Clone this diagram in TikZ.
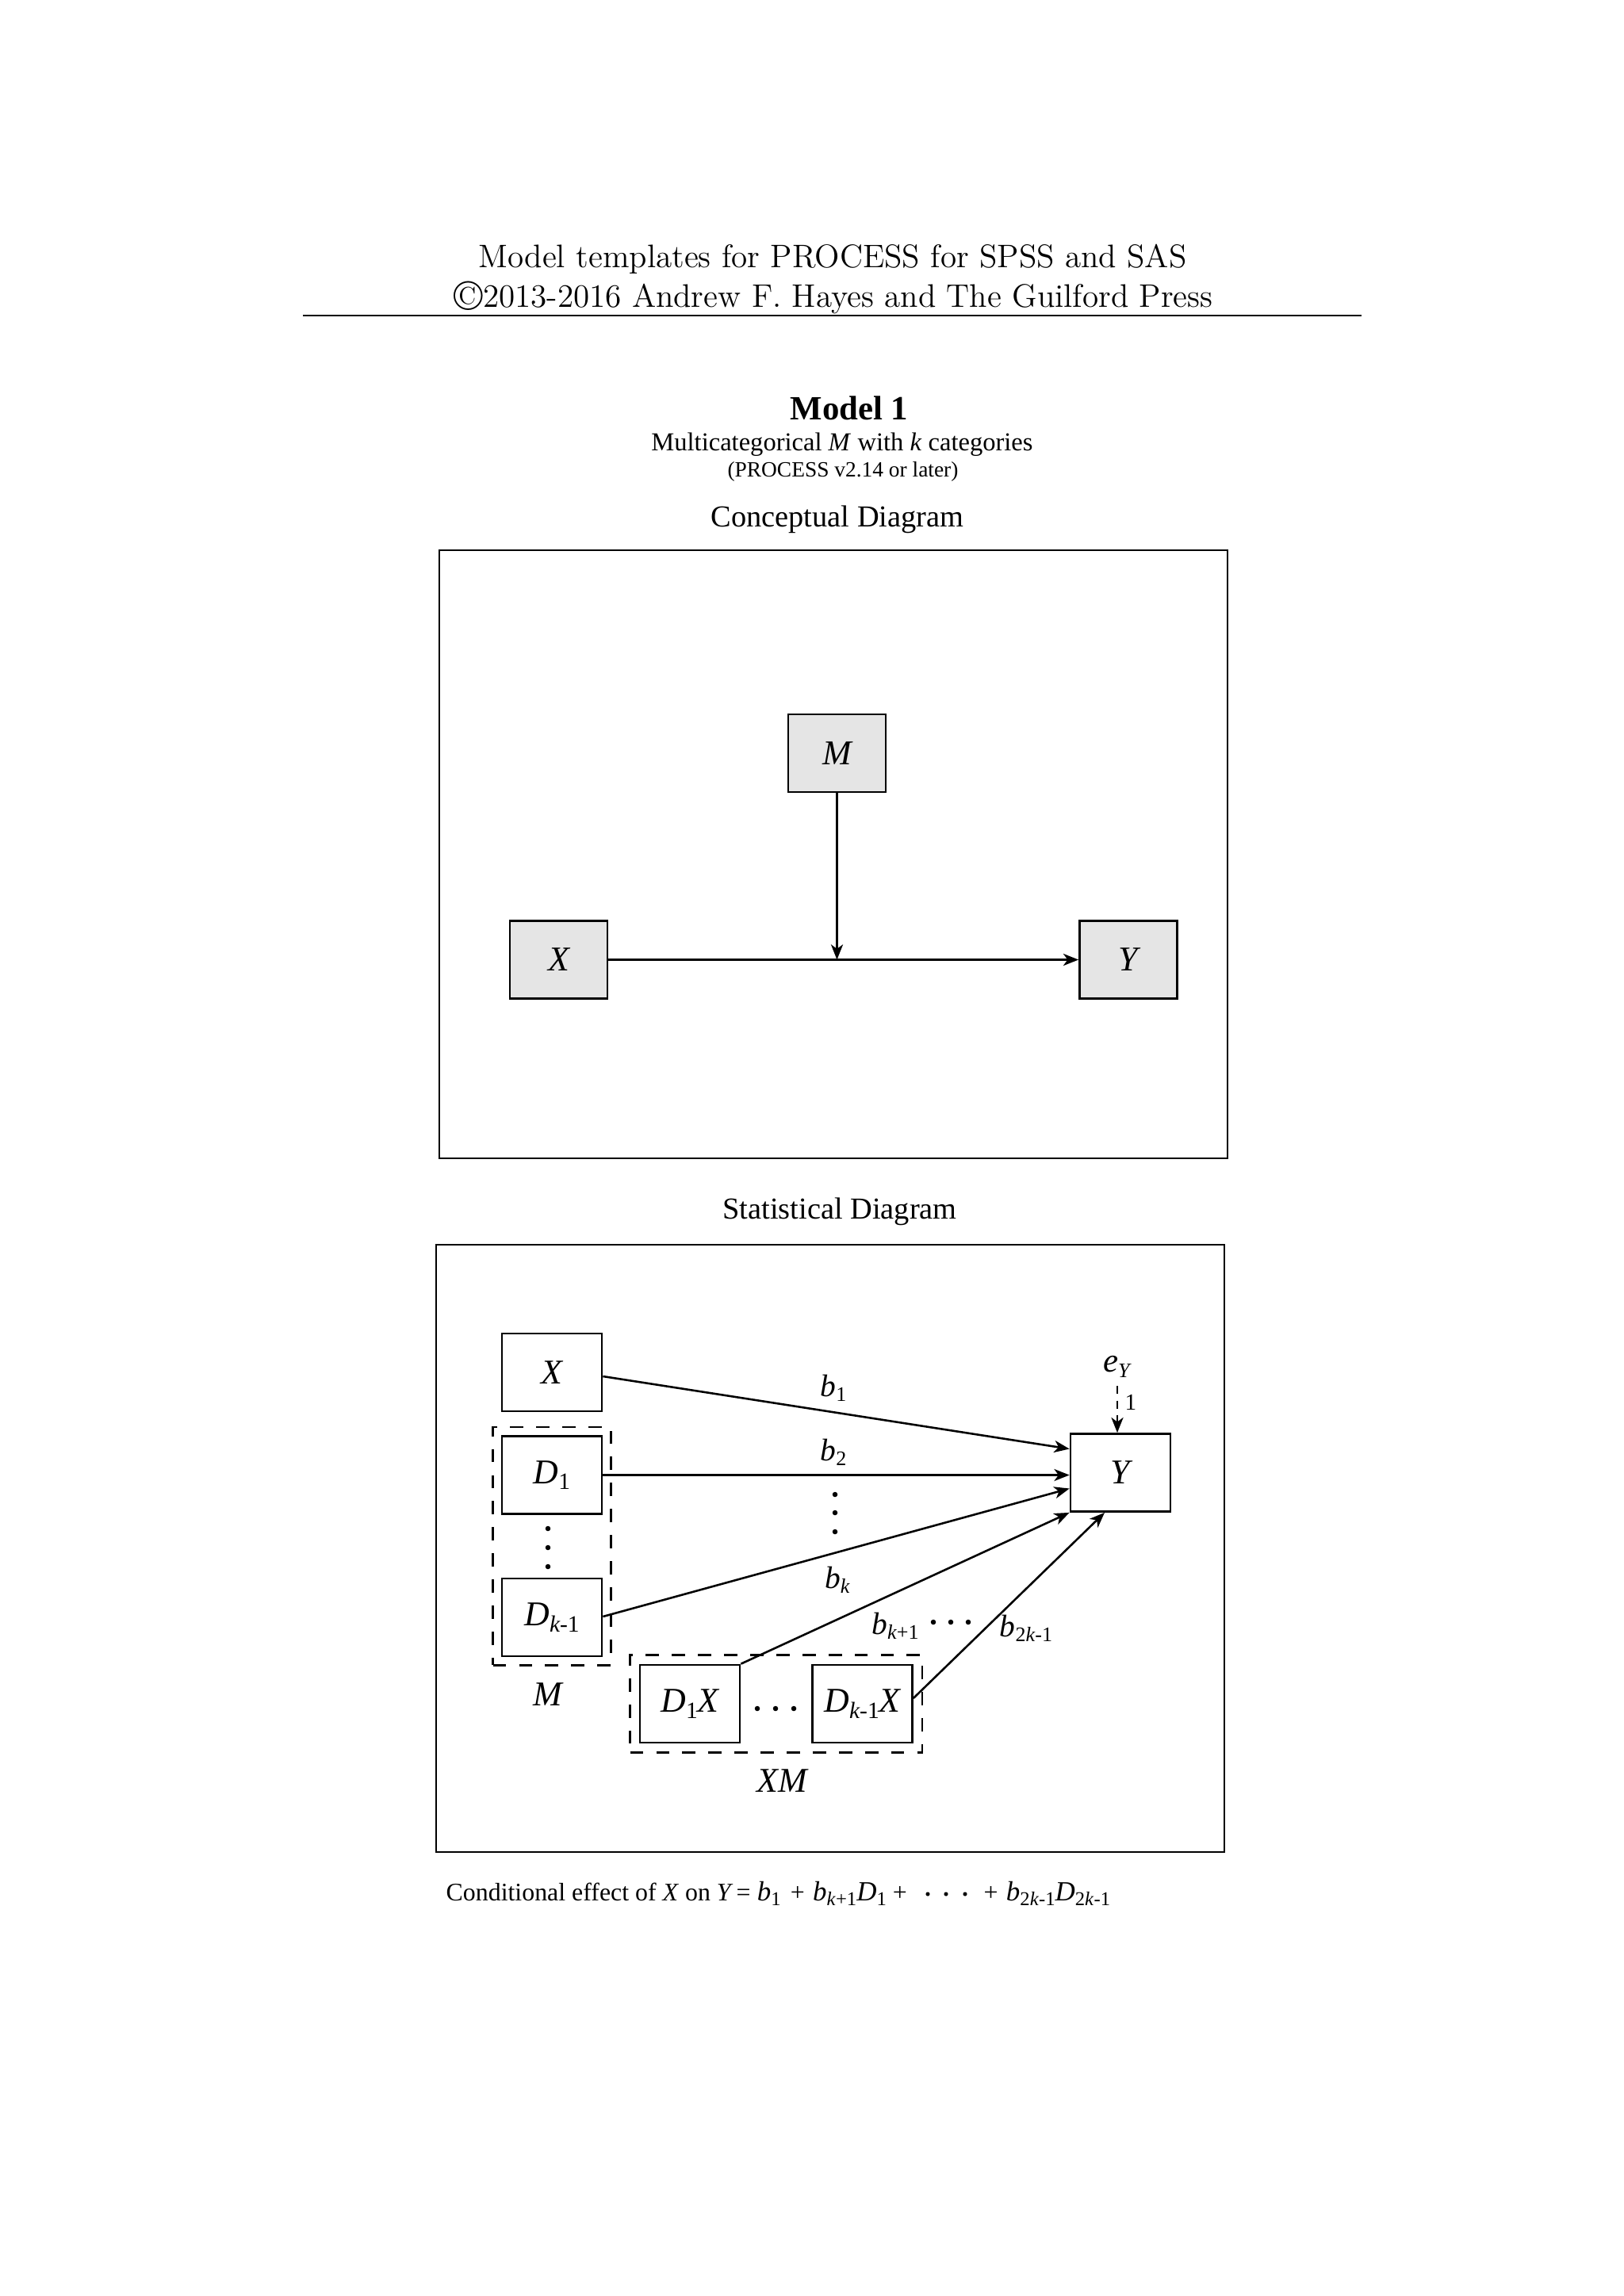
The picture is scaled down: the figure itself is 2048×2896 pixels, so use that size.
\documentclass[tikz,border=0pt]{standalone}
\usepackage{fontspec}
\usepackage{graphicx}
\newfontfamily\tms{Liberation Serif}
\usetikzlibrary{arrows.meta,fit,calc}
\newcommand\px{0.29175pt}
\newcommand\dsb[1]{\raisebox{-2.2pt}{\fontsize{8.6}{9}\selectfont #1}}
\newcommand\lsb[1]{\raisebox{-1.9pt}{\fontsize{7.6}{8}\selectfont #1}}
\newcommand\fsb[1]{\raisebox{-1.8pt}{\fontsize{7.2}{8}\selectfont #1}}
\newcommand\fbig[1]{{\fontsize{10.2}{11}\selectfont\itshape #1}}
\newcommand\bigcopy{\raisebox{-0.1em}{\scalebox{1.3}{\textcopyright}}}
\begin{document}
\begin{tikzpicture}[x=0.29175pt,y=-0.29175pt,
  box/.style={draw, line width=0.8pt, minimum width=123*\px, minimum height=98*\px, inner sep=0pt, font=\tms\fontsize{12.8}{15}\selectfont\itshape},
  cbox/.style={box, fill=black!10},
  sbox/.style={box, minimum width=126*\px},
  dbox/.style={draw, line width=0.75pt, dash pattern=on 4.9pt off 4.7pt},
  arr/.style={line width=0.75pt, -{Stealth[length=5.6pt,width=4.4pt,inset=1.6pt]}},
  darr/.style={arr, dash pattern=on 3pt off 2.4pt},
  lab/.style={inner sep=0pt, font=\tms\fontsize{11.5}{13}\selectfont},
  vlab/.style={inner sep=0pt, font=\tms\fontsize{12.8}{15}\selectfont\itshape},
  ttl/.style={inner sep=0pt, font=\tms\fontsize{11.2}{13}\selectfont},
  frame/.style={line width=0.5pt},
  foot/.style={inner sep=0pt, font=\tms\fontsize{9.3}{11}\selectfont},
  bul/.style={fill=black}]
\useasboundingbox (0,0) rectangle (2048,2896);

% header
\node[inner sep=0pt, font=\fontsize{12}{14}\selectfont] (h1) at (1050,327) {Model templates for PROCESS for SPSS and SAS};
\node[inner sep=0pt, font=\fontsize{12}{14}\selectfont] (h2) at (1051,375) {\bigcopy2013-2016 Andrew F. Hayes and The Guilford Press};
\draw[line width=0.5pt] (382,398) -- (1717,398);

% titles
\node[inner sep=0pt, font=\tms\bfseries\fontsize{12.5}{14}\selectfont] (t1) at (1071,515) {Model 1};
\node[inner sep=0pt, font=\tms\fontsize{9.5}{11}\selectfont] (t2) at (1062,561) {Multicategorical \textit{M} with \textit{k} categories};
\node[inner sep=0pt, font=\tms\fontsize{8}{10}\selectfont] (t3) at (1063,595) {(PROCESS v2.14 or later)};
\node[ttl] (t4) at (1056,655) {Conceptual Diagram};

% conceptual diagram
\draw[frame] (554,694) rectangle (1548,1461);
\node[cbox] (cM) at (1055.5,950) {M};
\node[cbox] (cX) at (704.5,1210.5) {X};
\node[cbox] (cY) at (1423,1210.5) {Y};
\draw[arr] (cX) -- (cY);
\draw[arr] (cM) -- (cM.south |- cX.east);

% statistical diagram
\node[ttl] (t5) at (1059,1528) {Statistical Diagram};
\draw[frame] (550,1570) rectangle (1544,2336);

\node[sbox] (sX) at (696,1731) {X};
\node[sbox] (sD1) at (696,1860.5) {D\dsb{\upshape 1}};
\node[sbox] (sDk) at (696,2040) {D\dsb{k\upshape -1}};
\node[sbox] (sY) at (1413,1857.5) {Y};
\node[sbox] (sD1X) at (870,2149) {D\dsb{\upshape 1}X};
\node[sbox] (sDkX) at (1087.5,2149) {D\dsb{k\upshape -1}X};

\node[dbox, fit=(sD1)(sDk), inner sep=10*\px] (gM) {};
\node[dbox, fit=(sD1X)(sDkX), inner sep=11*\px] (gXM) {};
\node[vlab] (lM) at (691,2137) {M};
\node[vlab] (lXM) at (986,2246) {XM};

\foreach \yy in {1928,1952,1976} \fill[bul] (691,\yy) circle (0.95pt);
\foreach \yy in {1885,1908,1932} \fill[bul] (1053,\yy) circle (0.95pt);
\foreach \xx in {955,978,1001} \fill[bul] (\xx,2155) circle (0.95pt);
\foreach \xx in {1177,1199,1221} \fill[bul] (\xx,2046) circle (0.95pt);

\draw[arr] ($(sX.east)+(0,5)$) -- ($(sY.west)+(0,-30)$);
\draw[arr] (sD1.east) -- (sY.west |- sD1.east);
\draw[arr] ($(sDk.east)+(0,-1)$) -- ($(sY.west)+(0,20)$);
\draw[arr] (sD1X.north east) -- (sY.south west);
\draw[arr] ($(sDkX.east)+(0,-7)$) -- ($(sY.south)+(-20,0)$);

\node[lab, font=\tms\fontsize{12.5}{14}\selectfont] (eY) at (1409,1724) {\textit{e}\lsb{\textit{Y}}};
\draw[darr] ($(eY.south)+(0,10)$) -- (eY.south |- sY.north);
\node[lab, font=\tms\fontsize{8.5}{10}\selectfont] (one) at (1426,1769) {1};

\node[lab] (b1) at (1051,1751) {\textit{b}\lsb{1}};
\node[lab] (b2) at (1051,1832) {\textit{b}\lsb{2}};
\node[lab] (bk) at (1056,1993) {\textit{b}\lsb{\textit{k}}};
\node[lab] (bk1) at (1129,2051) {\textit{b}\lsb{\textit{k}+1}};
\node[lab] (b2k) at (1294,2054) {\textit{b}\lsb{2\textit{k}-1}};

% footer
\node[foot, anchor=base west] (eqA) at (562,2397) {Conditional effect of \textit{X} on \textit{Y}\hspace{1.2pt}=\hspace{2.4pt}\fbig{b}\fsb{1}\hspace{3.6pt}+\hspace{3pt}\fbig{b}\fsb{\textit{k}+1}\fbig{D}\fsb{1}\hspace{2.3pt}+};
\foreach \xx in {1170,1193,1217} \fill[bul] (\xx,2389) circle (0.75pt);
\node[foot, anchor=base west] (eqB) at (1240,2397) {+\hspace{3pt}\fbig{b}\fsb{2\textit{k}-1}\fbig{D}\fsb{2\textit{k}-1}};
\end{tikzpicture}
\end{document}
